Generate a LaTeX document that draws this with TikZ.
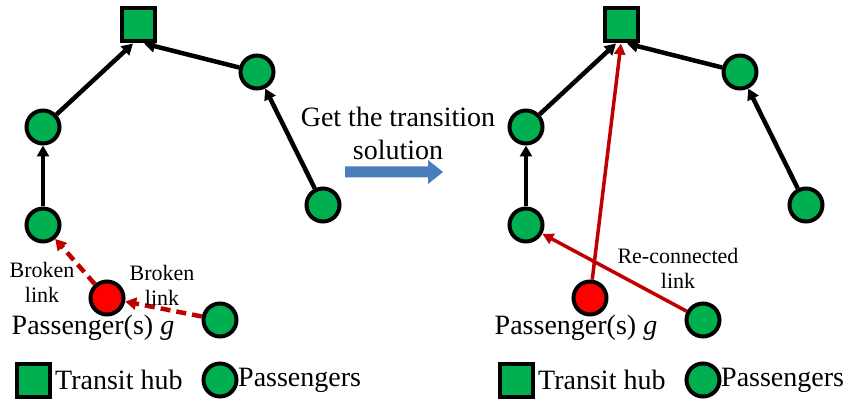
\documentclass[tikz,border=0pt]{standalone}
\usepackage{fontspec}
\setmainfont{Liberation Serif}
\usetikzlibrary{arrows.meta}
\definecolor{paxgreen}{HTML}{00B050}
\definecolor{linkred}{HTML}{C00000}
\definecolor{flowblue}{HTML}{4A7EBB}
\begin{document}
\begin{tikzpicture}[x=1pt,y=-1pt,
  pax/.style={circle, draw=black, line width=4pt, fill=paxgreen, minimum size=33pt, inner sep=0pt},
  hubbox/.style={rectangle, draw=black, line width=4pt, fill=paxgreen, minimum size=33pt, inner sep=0pt},
  lost/.style={circle, draw=black, line width=4pt, fill=red, minimum size=33pt, inner sep=0pt},
  link/.style={draw=black, line width=4.5pt, -{Triangle[length=11pt,width=12pt]}},
  broken/.style={draw=linkred, line width=4.5pt, dash pattern=on 10pt off 6pt, -{Triangle[length=11pt,width=12pt]}},
  relink/.style={draw=linkred, line width=3.5pt, -{Triangle[length=11pt,width=11pt]}},
  big/.style={font=\fontsize{28}{33}\selectfont, inner sep=0pt},
  small/.style={font=\fontsize{22}{25}\selectfont, align=center, inner sep=0pt}
]
\useasboundingbox (0,0) rectangle (854,403);

% ---------- network before the transition ----------
\node[hubbox] (h1) at (138,25) {};
\node[pax] (a1) at (43,127) {};
\node[pax] (b1) at (257,72) {};
\node[pax] (c1) at (43,225) {};
\node[pax] (d1) at (323,205) {};
\node[lost] (g1) at (107,298) {};
\node[pax] (e1) at (220,320) {};

\draw[link] (a1) -- ([xshift=-5pt]h1.south);
\draw[link] (b1) -- ([xshift=6pt]h1.south);
\draw[link] (c1) -- (a1);
\draw[link] (d1) -- (b1);
\draw[broken] (g1) -- (c1);
\draw[broken] (e1) -- (g1);

\node[small] (bl1) at (42,282) {Broken\\link};
\node[small] (bl2) at (162,285) {Broken\\link};
\node[big] (p1) at (93,328) {Passenger(s) \textit{g}};

% ---------- transition step ----------
\node[big, align=center] (step1) at (398,133) {Get the transition\\solution};
\fill[flowblue] (345,166.5) -- (428,166.5) -- (428,160) -- (443,172)
  -- (428,184) -- (428,177.5) -- (345,177.5) -- cycle;

% ---------- network after the transition ----------
\node[hubbox] (h2) at (621,25) {};
\node[pax] (a2) at (526,127) {};
\node[pax] (b2) at (740,72) {};
\node[pax] (c2) at (526,225) {};
\node[pax] (d2) at (806,205) {};
\node[lost] (g2) at (590,298) {};
\node[pax] (e2) at (703,320) {};

\draw[link] (a2) -- ([xshift=-5pt]h2.south);
\draw[link] (b2) -- ([xshift=6pt]h2.south);
\draw[link] (c2) -- (a2);
\draw[link] (d2) -- (b2);
\draw[relink] (g2) -- (h2.south);
\draw[relink] (e2) -- (c2);

\node[small] (rl) at (678,268) {Re-connected\\link};
\node[big] (p2) at (576,328) {Passenger(s) \textit{g}};

% ---------- legends ----------
\node[hubbox] (lh1) at (33,380) {};
\node[big, anchor=west] (lt1) at (55,380) {Transit hub};
\node[pax] (lp1) at (220,380) {};
\node[big, anchor=west] (lpt1) at (238,380) {Passengers};

\node[hubbox] (lh2) at (516,380) {};
\node[big, anchor=west] (lt2) at (538,380) {Transit hub};
\node[pax] (lp2) at (703,380) {};
\node[big, anchor=west] (lpt2) at (721,380) {Passengers};
\end{tikzpicture}
\end{document}
